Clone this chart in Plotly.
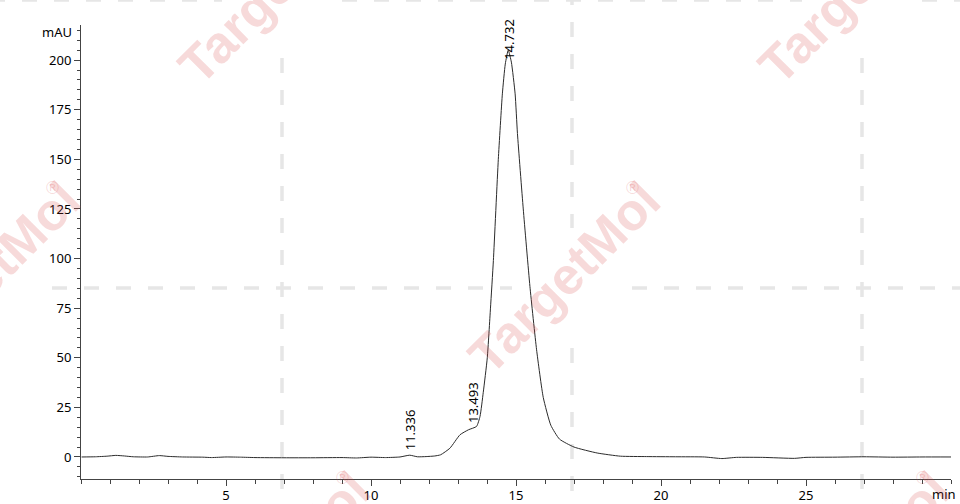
import plotly.graph_objects as go

# Retention time (min) and absorbance (mAU)
time_min = [0.02, 0.5, 0.9, 1.2, 1.5, 1.8, 2.3, 2.7, 3.0, 3.5, 4.2, 4.5, 5.0, 5.5, 6.0,
            7.0, 8.0, 9.0, 9.5, 10.0, 10.5, 11.0, 11.336, 11.6, 11.9, 12.2, 12.4, 12.72,
            13.07, 13.36, 13.64, 13.76, 13.87, 14.01, 14.12, 14.22, 14.39, 14.53, 14.63,
            14.732, 14.84, 14.97, 15.05, 15.25, 15.48, 15.71, 15.94, 16.2, 16.5, 17.0, 17.8,
            18.6, 19.5, 20.5, 21.5, 22.1, 22.6, 23.5, 24.6, 25.0, 26.0, 27.0, 28.0, 29.0, 30.0]
signal_mau = [0.0, 0.1, 0.4, 0.8, 0.5, 0.1, 0.0, 0.7, 0.3, 0.0, -0.1, -0.3, 0.0, -0.1, -0.3,
              -0.4, -0.4, -0.3, -0.5, -0.1, -0.3, 0.0, 0.9, 0.1, 0.2, 0.5, 1.1, 4.4,
              11.2, 13.7, 15.4, 20.5, 32.4, 50.0, 75.0, 99.0, 150.0, 183.0, 198.0,
              205.0, 199.0, 183.0, 163.0, 125.0, 86.0, 54.0, 30.0, 16.0, 9.0, 5.0, 2.0,
              0.4, 0.2, 0.1, 0.0, -0.8, -0.2, -0.2, -0.7, -0.2, -0.1, 0.1, -0.1, 0.0, 0.0]

# Peak labels
peak_times = [11.336, 13.493, 14.732]
peak_label_y = [2.5, 16.0, 199.0]
peak_labels = ["11.336", "13.493", "14.732"]

x_ticks = [5, 10, 15, 20, 25]
y_ticks = [0, 25, 50, 75, 100, 125, 150, 175, 200]

W, H = 960, 504
L, R, T, B = 81, 9, 25, 25
PW, PH = W - L - R, H - T - B


def px_x(px):
    return (px - L) / PW


def px_y(py):
    return (H - B - py) / PH


FONT = "Noto Sans"

fig = go.Figure()
fig.add_trace(go.Scatter(
    x=time_min, y=signal_mau, mode="lines",
    line=dict(color="#2b2b2b", width=1, shape="spline", smoothing=0.5),
    hoverinfo="x+y", showlegend=False,
))

annotations = []
for t, yv, lab in zip(peak_times, peak_label_y, peak_labels):
    annotations.append(dict(x=t, y=yv, xref="x", yref="y", text=lab, showarrow=False,
                            textangle=-90, xanchor="center", yanchor="bottom",
                            font=dict(family=FONT, size=13, color="#000")))

annotations.append(dict(x=px_x(74), y=px_y(32), xref="paper", yref="paper", text="mAU",
                        showarrow=False, xanchor="right", yanchor="middle",
                        font=dict(family=FONT, size=13, color="#000")))
annotations.append(dict(x=px_x(944), y=px_y(494), xref="paper", yref="paper", text="min",
                        showarrow=False, xanchor="center", yanchor="middle",
                        font=dict(family=FONT, size=13, color="#000")))

# Watermark pattern (TargetMol)
centers = [(282, -2), (862, -2), (-8, 288), (572, 288), (282, 578), (862, 578)]
wm_color = "rgba(215,70,70,0.2)"
for cx, cy in centers:
    annotations.append(dict(x=px_x(cx - 8), y=px_y(cy - 10), xref="paper", yref="paper",
                            text="<b>TargetMol</b>", showarrow=False, textangle=-45,
                            xanchor="center", yanchor="middle",
                            font=dict(family="Liberation Sans", size=52, color=wm_color)))
    annotations.append(dict(x=px_x(cx + 60), y=px_y(cy - 100), xref="paper", yref="paper",
                            text="®", showarrow=False, xanchor="center", yanchor="middle",
                            font=dict(family="DejaVu Sans", size=17, color=wm_color)))

shapes = []
dash_line = dict(color="#e6e6e6", width=3.5, dash="15px,17px")
v_segments = [(282, 58, 520), (572, -10, 228), (572, 348, 520), (862, 58, 520)]
for x0, y0, y1 in v_segments:
    shapes.append(dict(type="line", xref="paper", yref="paper", x0=px_x(x0), x1=px_x(x0),
                       y0=px_y(y0), y1=px_y(y1), line=dash_line, layer="below"))
h_segments = [(288, 52, 512), (288, 632, 975), (0, -10, 222), (0, 342, 802), (0, 922, 975)]
for yy, x0, x1 in h_segments:
    shapes.append(dict(type="line", xref="paper", yref="paper", x0=px_x(x0), x1=px_x(x1),
                       y0=px_y(yy), y1=px_y(yy), line=dash_line, layer="below"))

fig.update_layout(
    width=W, height=H,
    margin=dict(l=L, r=R, t=T, b=B, pad=0, autoexpand=False),
    paper_bgcolor="white", plot_bgcolor="rgba(0,0,0,0)",
    font=dict(family=FONT, size=13, color="#000"),
    annotations=annotations, shapes=shapes,
    xaxis=dict(range=[0, 30], tickmode="array", tickvals=x_ticks,
               ticktext=[str(v) for v in x_ticks],
               ticks="outside", ticklen=6, tickcolor="#444", tickwidth=1,
               ticklabelstandoff=-2,
               minor=dict(tickmode="linear", tick0=0, dtick=1, ticks="outside",
                          ticklen=4, tickcolor="#444", tickwidth=1),
               showline=True, linecolor="#444", linewidth=1, showgrid=False,
               zeroline=False, automargin=False, tickfont=dict(family=FONT, size=13)),
    yaxis=dict(range=[-11.1, 217.7], tickmode="array", tickvals=y_ticks,
               ticktext=[str(v) for v in y_ticks],
               ticks="outside", ticklen=6, tickcolor="#444", tickwidth=1,
               minor=dict(tickmode="linear", tick0=0, dtick=5, ticks="outside",
                          ticklen=3, tickcolor="#444", tickwidth=1),
               showline=True, linecolor="#444", linewidth=1, showgrid=False,
               zeroline=False, automargin=False, tickfont=dict(family=FONT, size=13)),
)

fig.write_html(
    "out.html",
    config={"displayModeBar": False},
    post_script="document.body.style.margin='0';document.body.style.overflow='hidden';",
)
